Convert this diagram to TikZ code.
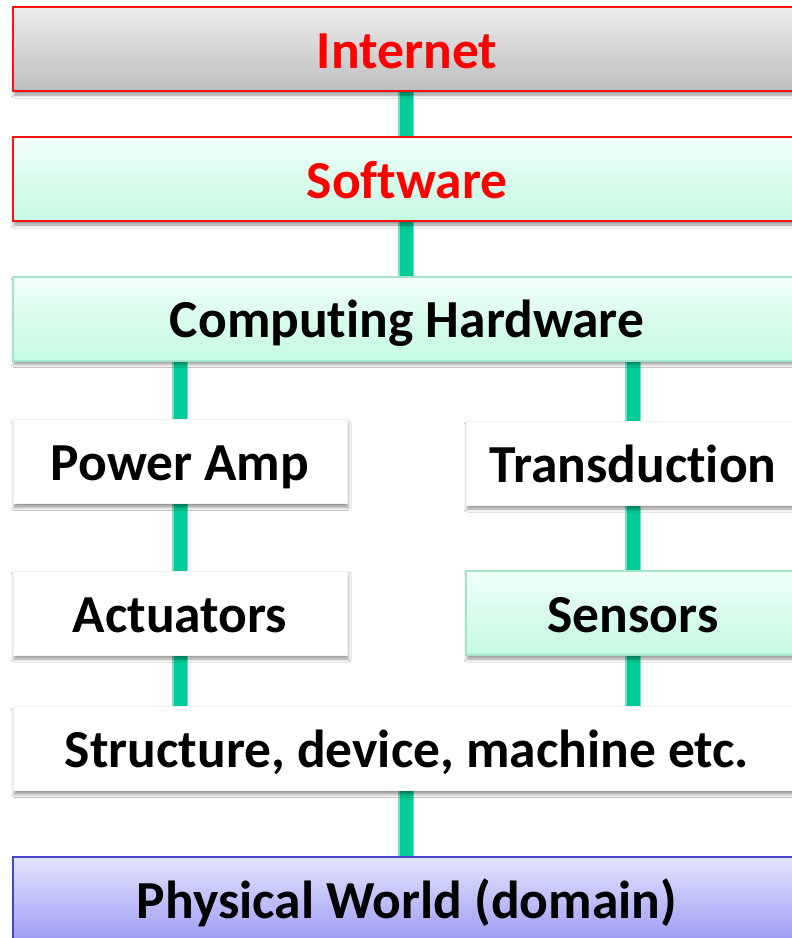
\documentclass[tikz,border=0pt]{standalone}
\usepackage{fontspec}
\setmainfont{Carlito}[Ligatures={NoCommon,NoRequired,NoContextual}]
\usetikzlibrary{backgrounds,shadows.blur}

\definecolor{linkgreen}{RGB}{0,204,153}
\definecolor{linkedge}{RGB}{120,224,194}
\definecolor{mintborder}{RGB}{165,228,202}
\definecolor{minttop}{RGB}{240,255,248}
\definecolor{mintbottom}{RGB}{195,249,226}
\definecolor{greytop}{RGB}{236,236,236}
\definecolor{greybottom}{RGB}{190,190,190}
\definecolor{bluetop}{RGB}{228,228,253}
\definecolor{bluebottom}{RGB}{156,156,244}
\definecolor{blueborder}{RGB}{70,70,200}
\definecolor{redline}{RGB}{255,16,16}

\tikzset{
  box/.style={inner sep=0pt, minimum height=84pt, text height=40pt, text depth=2pt,
    font=\fontsize{53.5}{60}\selectfont\bfseries,
    blur shadow={shadow xshift=1pt, shadow yshift=-4pt, shadow blur radius=3pt, shadow opacity=40}},
  wide/.style={box, minimum width=788pt},
  half/.style={box, minimum width=334pt},
  plainbox/.style={fill=white, draw=black!5, line width=0.5pt},
  mintbox/.style={top color=minttop, bottom color=mintbottom, draw=mintborder, line width=2pt},
  redbox/.style={draw=redline, line width=2.5pt, text=red},
  greybox/.style={top color=greytop, bottom color=greybottom},
  bluebox/.style={top color=bluetop, bottom color=bluebottom, draw=blueborder, line width=1.5pt},
  link/.style={draw=linkedge, line width=16pt, postaction={draw=linkgreen, line width=13pt}},
}

\begin{document}
\begin{tikzpicture}[x=1pt, y=-1pt]
  \useasboundingbox (0,0) rectangle (792,938);

  % layer stack, top to bottom
  \node[wide, greybox, redbox] (inet) at (407,49) {Internet};
  \node[wide, mintbox, redbox] (soft) at (407,179) {Software};
  \node[wide, mintbox] (hw) at (407,318.5) {Computing Hardware};
  \node[half, plainbox] (amp) at (180,461.5) {Power Amp};
  \node[half, plainbox] (trans) at (633,463) {Transduction};
  \node[half, plainbox] (act) at (180,613) {Actuators};
  \node[half, mintbox] (sens) at (633,613) {Sensors};
  \node[wide, plainbox] (struct) at (407,748.5) {Structure, device, machine etc.};
  \node[wide, bluebox] (phys) at (407,899) {Physical World (domain)};

  \begin{scope}[on background layer]
    \fill[white] (0,0) rectangle (792,938);
    \path[link] ([xshift=-1pt]inet.south) -- ([xshift=-1pt]soft.north);
    \path[link] ([xshift=-1pt]soft.south) -- ([xshift=-1pt]hw.north);
    \path[link] (amp.north |- hw.south) -- (amp.north);
    \path[link] (trans.north |- hw.south) -- (trans.north);
    \path[link] (amp.south) -- (act.north);
    \path[link] (trans.south) -- (sens.north);
    \path[link] (act.south) -- (act.south |- struct.north);
    \path[link] (sens.south) -- (sens.south |- struct.north);
    \path[link] ([xshift=-1pt]struct.south) -- ([xshift=-1pt]phys.north);
  \end{scope}
\end{tikzpicture}
\end{document}
